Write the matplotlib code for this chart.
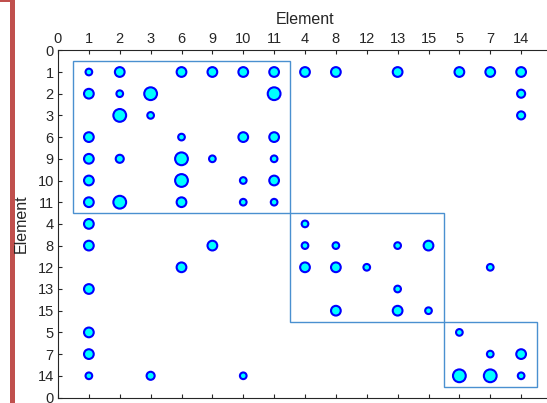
import numpy as np
import matplotlib
matplotlib.use("Agg")
import matplotlib.pyplot as plt
from matplotlib.patches import Rectangle

plt.rcParams.update({"font.family": ["Liberation Sans", "DejaVu Sans"], "font.size": 10})

# element ordering along both axes (clustered)
order = [1, 2, 3, 6, 9, 10, 11, 4, 8, 12, 13, 15, 5, 7, 14]
# cluster boundaries (first and last position of each block)
blocks = [(1, 7), (8, 12), (13, 15)]

# nonzero entries: row element, column element, weight level (1 small .. 4 large)
row_el = [1] * 12 + [2] * 5 + [3] * 3 + [6] * 4 + [9] * 5 + [10] * 4 + [11] * 5 \
    + [4] * 2 + [8] * 6 + [12] * 5 + [13] * 2 + [15] * 3 + [5] * 2 + [7] * 3 + [14] * 6
col_el = [1, 2, 6, 9, 10, 11, 4, 8, 13, 5, 7, 14,
          1, 2, 3, 11, 14,
          2, 3, 14,
          1, 6, 10, 11,
          1, 2, 6, 9, 11,
          1, 6, 10, 11,
          1, 2, 6, 10, 11,
          1, 4,
          1, 9, 4, 8, 13, 15,
          6, 4, 8, 12, 7,
          1, 13,
          8, 13, 15,
          1, 5,
          1, 7, 14,
          1, 3, 10, 5, 7, 14]
weight = [1, 3, 3, 3, 3, 3, 3, 3, 3, 3, 3, 3,
          3, 1, 4, 4, 2,
          4, 1, 2,
          3, 1, 3, 3,
          3, 2, 4, 1, 1,
          3, 4, 1, 3,
          3, 4, 3, 1, 1,
          3, 1,
          3, 3, 1, 1, 1, 3,
          3, 3, 3, 1, 1,
          3, 1,
          3, 3, 1,
          3, 1,
          3, 1, 3,
          1, 2, 1, 4, 4, 1]

ms = {1: 4.8, 2: 5.8, 3: 7.0, 4: 9.2}
pos = {e: i + 1 for i, e in enumerate(order)}

W, H = 547, 403
fig = plt.figure(figsize=(W / 100, H / 100), dpi=100)
ax = fig.add_axes([58 / W, 1 - 397.5 / H, 494 / W, 347.2 / H])

xs = [pos[c] for c in col_el]
ys = [pos[r] for r in row_el]
ax.scatter(xs, ys, s=[ms[w] ** 2 for w in weight], facecolor="#00ffff",
           edgecolor="#0000ff", linewidths=1.5, zorder=3)

for a, b in blocks:
    ax.add_patch(Rectangle((a - 0.5, a - 0.5), b - a + 1, b - a + 1, fill=False,
                           edgecolor="#4a90d0", lw=1.0, zorder=2))

labels = ["0"] + [str(e) for e in order] + ["0"]
ax.set_xlim(0, 16)
ax.set_ylim(16, 0)
ax.set_xticks(range(16))
ax.set_xticklabels(labels[:-1])
ax.set_yticks(range(17))
ax.set_yticklabels(labels)
ax.xaxis.tick_top()
ax.xaxis.set_label_position("top")
ax.tick_params(axis="both", direction="in", length=3, width=0.8, color="#262626",
               labelcolor="#262626", labelsize=10.5)
ax.tick_params(axis="x", top=True, bottom=True, labelbottom=False, pad=3)
ax.tick_params(axis="y", left=True, right=True, pad=3)
for s in ax.spines.values():
    s.set_color("#262626")
    s.set_linewidth(0.8)
ax.set_xlabel("Element", fontsize=11.5, color="#262626", labelpad=6)
ax.set_ylabel("Element", fontsize=11.5, color="#262626", labelpad=6)

# red bracket on the left edge
red = "#c0504d"
fig.add_artist(Rectangle((10 / W, 0), 5 / W, 1, transform=fig.transFigure,
                         facecolor=red, edgecolor="none", zorder=0))
fig.add_artist(Rectangle((0, 1 - 2 / H), 15 / W, 2 / H, transform=fig.transFigure,
                         facecolor=red, edgecolor="none", zorder=0))

fig.savefig("out.png", dpi=100)
